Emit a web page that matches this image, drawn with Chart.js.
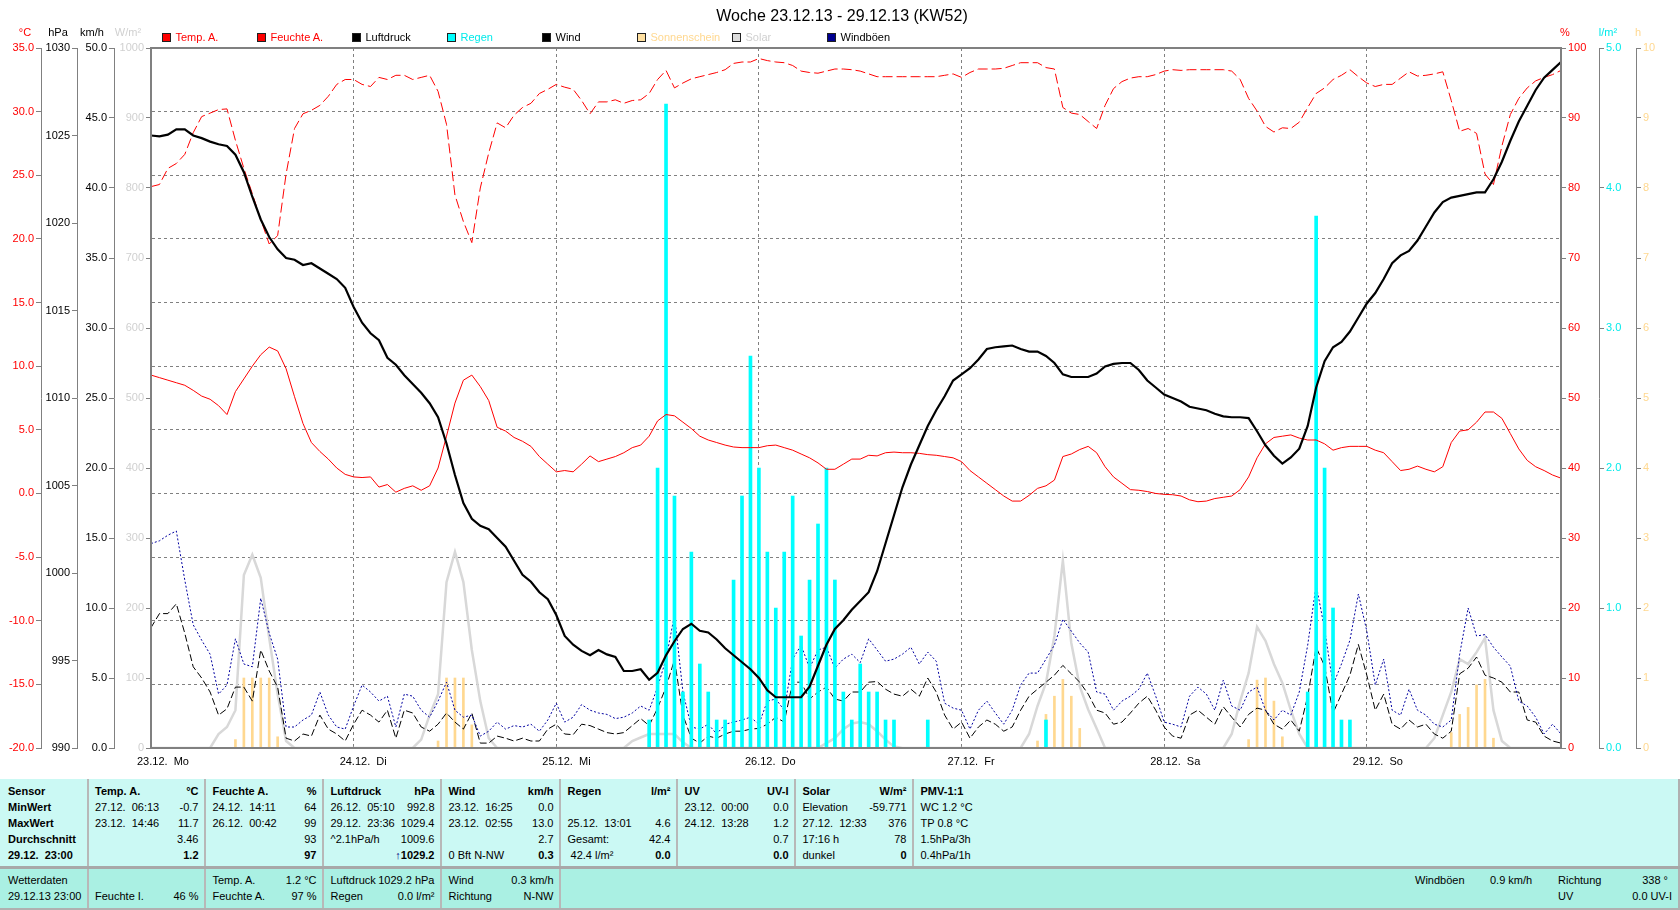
<!DOCTYPE html>
<html><head><meta charset="utf-8">
<script src="https://cdn.jsdelivr.net/npm/chart.js@4.4.0/dist/chart.umd.min.js"></script>
<style>
body{margin:0;background:#fff;width:1680px;height:910px;overflow:hidden;position:relative;font-family:"Liberation Sans",Arial,sans-serif;font-size:11px;color:#000;}
#c{position:absolute;left:0;top:0;}
.t{position:absolute;white-space:pre;line-height:13px;height:13px;}
.b{font-weight:bold;}
.box{position:absolute;}
</style></head><body>
<canvas id="c" width="1680" height="775"></canvas>
<div id="ov"></div>
<script>
// ---------- data (hourly, 23.12.13 00:00 ... 29.12.13 23:00) ----------
const dayLabels = ['23.12.  Mo','24.12.  Di','25.12.  Mi','26.12.  Do','27.12.  Fr','28.12.  Sa','29.12.  So'];
const dayTicks = [0,24,48,72,96,120,144];

const tempC = [
9.3,9.1,8.9,8.7,8.5,8.1,7.65,7.4,6.9,6.2,
8.0,9.0,10.0,10.9,11.5,11.2,9.8,7.6,5.5,4.0,
3.3,2.7,2.0,1.5,1.3,1.25,1.3,0.5,0.7,0.1,
0.4,0.6,0.25,0.6,2.0,4.5,7.1,8.9,9.3,8.4,
7.3,5.2,4.9,4.4,4.1,3.7,2.9,2.3,1.7,1.8,
1.7,2.3,2.95,2.5,2.7,2.9,3.2,3.6,3.8,4.5,
5.7,6.2,6.1,5.6,5.1,4.5,4.2,4.0,3.8,3.65,
3.6,3.6,3.6,3.75,3.8,3.6,3.4,3.1,2.8,2.4,
1.9,1.9,2.3,2.7,2.7,3.0,2.95,3.2,3.25,3.2,
3.2,3.15,3.05,3.0,2.9,2.8,2.5,1.8,1.3,0.8,
0.3,-0.2,-0.6,-0.6,-0.15,0.4,0.6,1.05,2.9,3.1,
3.45,3.7,3.2,2.1,1.3,0.8,0.3,0.25,0.15,0.0,
-0.07,-0.1,-0.2,-0.5,-0.65,-0.6,-0.4,-0.3,-0.2,0.3,
1.3,2.8,3.9,4.4,4.5,4.6,4.35,4.2,4.2,3.9,
3.4,3.6,3.7,3.7,3.7,3.4,3.2,2.5,1.8,1.9,
2.15,1.9,1.7,2.1,4.0,4.9,5.0,5.6,6.4,6.4,
5.9,4.7,3.5,2.6,2.1,1.8,1.45,1.2];

const humidity = [
80.2,80.5,82.8,83.5,84.8,87.9,90.2,90.7,91.2,91.3,
86.8,82.8,79.2,75.5,72.0,73.2,82.0,88.5,90.6,91.1,
91.8,93.1,94.8,95.5,95.5,94.8,94.5,95.8,95.5,96.1,
96.1,95.5,95.8,96.1,93.8,89.1,79.0,75.2,72.2,80.0,
85.0,89.3,88.6,90.4,91.5,92.1,93.5,94.1,94.8,94.4,
94.1,92.5,90.6,92.3,92.3,92.6,92.1,92.5,92.6,93.5,
95.5,96.8,94.3,95.0,95.6,95.9,96.2,96.5,96.9,97.8,
98.0,98.0,98.5,98.2,98.0,97.9,97.5,96.7,96.5,96.4,
96.7,97.0,97.0,96.9,96.7,96.3,95.9,95.9,95.9,95.9,
95.9,95.9,95.9,95.9,96.1,96.3,95.8,96.5,97.0,97.0,
97.0,97.1,97.5,97.9,97.9,97.9,97.2,97.0,91.5,90.7,
90.5,89.5,88.5,91.8,94.2,95.2,95.7,95.9,95.9,96.2,
96.7,96.9,96.8,96.9,96.9,96.9,96.9,96.9,96.7,95.5,
92.8,91.0,88.8,88.0,88.6,88.5,89.4,91.5,93.5,94.3,
95.5,96.1,96.9,95.9,95.0,94.5,94.8,94.8,95.7,96.6,
96.0,96.1,96.3,96.6,92.5,88.1,88.5,87.8,82.0,80.5,
86.0,90.5,92.8,94.3,95.3,95.8,96.2,96.8];

const pressure = [
1025.0,1024.95,1025.05,1025.35,1025.35,1025.0,1024.85,1024.65,1024.5,1024.4,
1023.9,1022.9,1021.5,1020.2,1019.2,1018.5,1018.0,1017.9,1017.6,1017.7,
1017.4,1017.1,1016.8,1016.3,1015.2,1014.3,1013.7,1013.3,1012.3,1011.9,
1011.3,1010.8,1010.3,1009.7,1008.9,1007.4,1005.6,1004.0,1003.1,1002.7,
1002.5,1002.0,1001.5,1000.7,999.9,999.5,998.9,998.5,997.6,996.4,
995.9,995.55,995.3,995.6,995.35,995.2,994.4,994.4,994.5,993.9,
994.3,995.3,996.1,996.8,997.1,996.7,996.6,996.2,995.7,995.3,
994.9,994.5,994.0,993.3,992.9,992.9,992.9,992.9,993.5,994.7,
995.9,996.8,997.3,997.9,998.4,998.9,1000.1,1001.7,1003.3,1004.9,
1006.2,1007.3,1008.4,1009.3,1010.1,1011.0,1011.35,1011.7,1012.2,1012.8,
1012.9,1012.95,1013.0,1012.8,1012.65,1012.65,1012.4,1012.0,1011.35,1011.2,
1011.2,1011.2,1011.4,1011.8,1011.95,1012.0,1012.0,1011.6,1011.0,1010.6,
1010.2,1010.0,1009.8,1009.5,1009.4,1009.3,1009.1,1008.95,1008.9,1008.9,
1008.85,1008.1,1007.3,1006.7,1006.25,1006.6,1007.1,1008.4,1010.6,1012.1,
1012.9,1013.2,1013.8,1014.6,1015.4,1016.0,1016.8,1017.7,1018.15,1018.4,
1019.0,1019.8,1020.6,1021.2,1021.45,1021.55,1021.65,1021.75,1021.75,1022.5,
1023.5,1024.7,1025.8,1026.7,1027.6,1028.3,1028.75,1029.2];

const wind = [
8.6,9.6,9.6,10.3,8.2,5.8,5.0,4.0,2.35,2.8,
4.35,4.35,3.35,7.0,5.5,4.35,0.7,0.5,1.0,0.85,
2.35,1.35,1.0,0.5,1.7,2.7,2.35,1.85,2.7,0.7,
2.7,2.5,1.5,1.2,1.7,2.5,1.85,1.35,2.5,0.35,
0.35,0.85,0.7,0.5,0.7,0.5,0.5,1.35,1.7,1.0,
0.95,1.7,1.6,1.35,1.1,1.0,1.1,1.6,2.1,1.6,
2.85,4.35,6.3,2.35,0.7,0.35,0.85,0.7,1.0,1.2,
1.2,1.35,1.4,1.7,2.2,1.85,4.7,4.7,3.5,4.0,
4.35,3.5,3.35,4.0,4.0,4.7,4.75,4.2,3.85,3.7,
4.2,3.7,5.0,4.0,2.35,1.35,1.85,0.7,1.5,2.0,
1.7,1.2,1.5,2.7,3.7,4.2,4.7,5.2,5.9,5.3,
4.7,3.85,2.7,2.5,1.7,1.85,2.5,3.2,3.7,2.7,
1.5,0.85,0.7,2.35,2.7,2.2,1.7,2.95,2.2,1.5,
2.4,2.85,2.7,1.7,1.35,2.0,1.2,3.7,7.2,5.85,
2.5,3.85,5.2,7.4,5.2,2.7,3.85,1.7,1.35,2.0,
1.5,1.7,1.0,0.7,1.2,5.3,5.7,6.5,5.2,5.0,
4.7,4.0,4.0,2.0,1.85,0.85,0.5,0.35];

const gusts = [
14.6,14.8,15.2,15.5,12.0,8.8,7.7,6.7,3.85,4.5,
7.8,6.0,5.8,10.7,8.2,6.35,1.5,1.5,2.0,2.35,
4.0,2.35,1.5,1.35,3.0,4.5,4.0,3.35,3.7,1.5,
3.85,3.7,2.7,2.2,3.35,4.7,2.7,2.2,2.35,0.85,
1.2,1.85,1.35,1.6,1.5,1.7,1.2,2.0,3.2,1.85,
2.2,3.1,2.7,2.5,2.4,2.1,2.2,2.5,3.0,2.7,
4.35,6.35,9.5,4.0,1.5,1.35,1.7,1.0,1.7,1.85,
2.0,2.2,1.7,3.35,3.5,2.7,6.35,7.35,5.7,7.0,
7.2,5.7,6.35,6.7,6.1,7.8,7.0,6.2,6.35,6.7,
7.2,6.0,6.85,6.2,3.2,2.85,2.7,1.35,2.7,3.35,
2.5,1.7,2.7,4.5,5.35,5.35,6.35,7.35,9.2,8.35,
7.5,6.85,4.0,3.85,2.7,3.35,3.7,4.2,5.35,3.7,
1.85,1.7,1.5,3.7,4.35,3.85,2.7,4.85,3.0,2.7,
4.0,4.35,2.7,2.0,2.7,2.35,4.0,7.35,11.65,8.5,
4.5,6.0,7.7,11.0,8.35,4.5,6.35,2.7,2.35,4.2,
2.7,2.35,1.7,1.5,2.0,6.7,10.0,8.0,8.1,7.2,
6.5,5.85,3.35,3.0,2.2,1.0,1.7,1.0];

const solar = [
0,0,0,0,0,0,0,0,20,30,
54,247,276,243,157,77,10,0,0,0,
0,0,0,0,0,0,0,0,0,0,
0,0,12,47,77,237,280,237,140,67,
14,0,0,0,0,0,0,0,0,0,
0,0,0,0,0,0,0,10,15,20,
20,20,20,8,0,0,0,0,0,0,
0,0,0,0,0,0,0,0,0,0,
7,14,27,35,37,34,24,12,2,0,
0,0,0,0,0,0,0,0,0,0,
0,0,0,0,20,60,93,160,268,150,
88,55,28,0,0,0,0,0,0,0,
0,0,0,0,0,0,0,0,20,67,
107,173,153,120,93,54,20,0,0,0,
0,0,0,0,0,0,0,0,0,0,
0,0,14,47,80,127,120,137,157,54,
10,0,0,0,0,0,0,0];

const rainHours = [59,60,61,62,63,64,65,66,67,68,69,70,71,72,73,74,75,76,77,78,79,80,81,82,83,84,85,86,87,88,92,106,137,138,139,140,141,142];
const rainVals  = [0.2,2.0,4.6,1.8,0.4,1.4,0.6,0.4,0.2,0.2,1.2,1.8,2.8,2.0,1.4,1.0,1.4,1.8,0.8,1.2,1.6,2.0,1.2,0.4,0.2,0.6,0.4,0.4,0.2,0.2,0.2,0.2,0.4,3.8,2.0,1.0,0.2,0.2];

const sunHours = [10,11,12,13,14,15,34,35,36,37,38,105,106,107,108,109,110,130,131,132,133,134,154,155,156,157,158,159];
const sunVals  = [0.12,1.0,1.0,1.0,1.0,0.16,0.1,1.0,1.0,1.0,0.33,0.1,0.48,0.74,0.98,0.74,0.28,0.12,0.97,1.0,0.67,0.16,0.22,0.48,0.58,0.9,0.98,0.14];

const tempTicks = [-20,-15,-10,-5,0,5,10,15,20,25,30,35];
const presTicks = [990,995,1000,1005,1010,1015,1020,1025,1030];
const windTicks = [0,5,10,15,20,25,30,35,40,45,50];
const solarTicks = [0,100,200,300,400,500,600,700,800,900,1000];
const humTicks = [0,10,20,30,40,50,60,70,80,90,100];
const rainTicks = [0,1,2,3,4,5];
const sunTicks = [0,1,2,3,4,5,6,7,8,9,10];

// ---------- chart ----------
const hourIdx = Array.from({length: tempC.length}, (_, i) => i);
const pts = arr => arr.map((v, i) => ({x: hourIdx[i], y: v}));
const FONT = {family: '"Liberation Sans", Arial, sans-serif', size: 11};
const GRAY = '#808080';

function yAxis(pos, weight, min, max, ticks, color, fmt, width, extra) {
  return Object.assign({
    type: 'linear', position: pos, weight: weight, min: min, max: max,
    afterBuildTicks: s => { s.ticks = ticks.map(v => ({value: v})); },
    ticks: {callback: fmt, color: color, font: FONT, padding: 2, autoSkip: false},
    grid: {drawOnChartArea: false, drawTicks: true, tickLength: 5, color: GRAY, tickColor: GRAY},
    border: {display: true, color: GRAY, width: 1},
    afterFit: s => { s.width = width; }
  }, extra || {});
}

const framePlugin = {
  id: 'frame',
  afterDatasetsDraw(chart) {
    const {ctx, chartArea: a} = chart;
    ctx.save();
    ctx.strokeStyle = GRAY; ctx.lineWidth = 2;
    ctx.strokeRect(a.left, a.top, a.right - a.left, a.bottom - a.top);
    ctx.restore();
  }
};

new Chart(document.getElementById('c'), {
  type: 'line',
  data: {
    datasets: [
      {type: 'line', label: 'Luftdruck', data: pts(pressure), yAxisID: 'yP', borderColor: '#000', borderWidth: 2.2, pointRadius: 0, tension: 0, order: 1},
      {type: 'line', label: 'Temp. A.', data: pts(tempC), yAxisID: 'yT', borderColor: '#ff0000', borderWidth: 1, pointRadius: 0, tension: 0, order: 2},
      {type: 'line', label: 'Feuchte A.', data: pts(humidity), yAxisID: 'yHum', borderColor: '#ff0000', borderWidth: 1, borderDash: [10, 4], pointRadius: 0, tension: 0, order: 3},
      {type: 'bar', label: 'Regen', data: rainHours.map((h, i) => ({x: h, y: rainVals[i]})), yAxisID: 'yR', backgroundColor: '#00ffff', barThickness: 3, grouped: false, order: 4},
      {type: 'line', label: 'Windböen', data: pts(gusts), yAxisID: 'yW', borderColor: '#0000a0', borderWidth: 1, borderDash: [2, 2], pointRadius: 0, tension: 0, order: 5},
      {type: 'line', label: 'Wind', data: pts(wind), yAxisID: 'yW', borderColor: '#000', borderWidth: 1, borderDash: [7, 3], pointRadius: 0, tension: 0, order: 6},
      {type: 'bar', label: 'Sonnenschein', data: sunHours.map((h, i) => ({x: h, y: sunVals[i]})), yAxisID: 'ySun', backgroundColor: '#ffd890', barThickness: 2, grouped: false, order: 7},
      {type: 'line', label: 'Solar', data: pts(solar), yAxisID: 'yS', borderColor: '#d8d8d8', borderWidth: 2.5, pointRadius: 0, tension: 0, order: 8}
    ]
  },
  options: {
    responsive: false, animation: false, devicePixelRatio: 1, events: [],
    layout: {padding: {top: 48, left: 0, right: 0, bottom: 0}},
    plugins: {legend: {display: false}, tooltip: {enabled: false}, title: {display: false}},
    scales: {
      x: {
        type: 'linear', position: 'bottom', min: 0, max: 167, offset: false,
        afterBuildTicks: s => { s.ticks = dayTicks.map(v => ({value: v})); },
        ticks: {callback: v => dayLabels[Math.round(v / 24)], align: 'start', labelOffset: -14, padding: 7, color: '#000', font: FONT, autoSkip: false, maxRotation: 0},
        grid: {color: GRAY, drawTicks: false, lineWidth: 1, offset: false},
        border: {color: GRAY, width: 2, dash: [3, 3]},
        afterFit: s => { s.height = 27; }
      },
      yT: yAxis('left', 4, -20, 35, tempTicks, '#ff0000', v => v.toFixed(1), 41,
        {grid: {drawOnChartArea: true, drawTicks: true, tickLength: 5, color: GRAY, tickColor: GRAY, lineWidth: 1},
         border: {display: true, color: GRAY, width: 1, dash: [3, 3]}}),
      yP: yAxis('left', 3, 990, 1030, presTicks, '#000', v => String(v), 36),
      yW: yAxis('left', 2, 0, 50, windTicks, '#000', v => v.toFixed(1), 37),
      yS: yAxis('left', 1, 0, 1000, solarTicks, '#d0d0d0', v => String(v), 37),
      yHum: yAxis('right', 1, 0, 100, humTicks, '#ff0000', v => String(v), 38),
      yR: yAxis('right', 2, 0, 5, rainTicks, '#00eaea', v => v.toFixed(1), 37),
      ySun: yAxis('right', 3, 0, 10, sunTicks, '#ffd890', v => String(v), 44)
    }
  },
  plugins: [framePlugin]
});

// ---------- overlay texts ----------
const ov = document.getElementById('ov');
function T(x, y, s, o) {
  o = o || {};
  const d = document.createElement('div');
  d.className = 't' + (o.b ? ' b' : '');
  if (o.html) d.innerHTML = s; else d.textContent = s;
  d.style.top = (y - 7) + 'px';
  if (o.align === 'right') d.style.right = (1680 - x) + 'px';
  else if (o.align === 'center') { d.style.left = x + 'px'; d.style.transform = 'translateX(-50%)'; }
  else d.style.left = x + 'px';
  if (o.color) d.style.color = o.color;
  if (o.size) { d.style.fontSize = o.size + 'px'; d.style.lineHeight = (o.size + 3) + 'px'; d.style.height = (o.size + 3) + 'px'; d.style.top = (y - (o.size + 3) / 2) + 'px'; }
  ov.appendChild(d);
}
function B(x, y, w, h, bg, extra) {
  const d = document.createElement('div');
  d.className = 'box';
  d.style.left = x + 'px'; d.style.top = y + 'px'; d.style.width = w + 'px'; d.style.height = h + 'px';
  d.style.background = bg;
  if (extra) Object.assign(d.style, extra);
  ov.appendChild(d);
}

// title
T(842, 15, 'Woche 23.12.13 - 29.12.13 (KW52)', {align: 'center', size: 16});

// axis units
T(25, 33, '°C', {align: 'center', color: '#ff0000'});
T(58, 33, 'hPa', {align: 'center'});
T(92, 33, 'km/h', {align: 'center'});
T(128, 33, 'W/m²', {align: 'center', color: '#d0d0d0'});
T(1565, 33, '%', {align: 'center', color: '#ff0000'});
T(1608, 33, 'l/m²', {align: 'center', color: '#00eaea'});
T(1638, 33, 'h', {align: 'center', color: '#ffd890'});

// legend
const legItems = [
  ['Temp. A.', '#ff0000', '#ff0000'],
  ['Feuchte A.', '#ff0000', '#ff0000'],
  ['Luftdruck', '#000000', '#000000'],
  ['Regen', '#00ffff', '#00eaea'],
  ['Wind', '#000000', '#000000'],
  ['Sonnenschein', '#ffe0a0', '#ffd890'],
  ['Solar', '#dcdcdc', '#d0d0d0'],
  ['Windböen', '#000090', '#000000']
];
legItems.forEach((it, i) => {
  const x = 161.5 + 95 * i;
  B(x, 33, 9, 9, it[1], {border: '1px solid #202020', boxSizing: 'border-box'});
  T(x + 14, 37.5, it[0], {color: it[2]});
});

// table backgrounds
B(0, 779, 1678, 87, '#cbf9f4', {borderRight: '2px solid #b0b0b0'});
B(0, 866, 1680, 3, '#a8a8a8');
B(0, 869, 1678, 39, '#aaf0e3', {borderRight: '2px solid #b0b0b0', borderBottom: '2px solid #b0b0b0'});
const cols = [0, 87.5, 205, 323, 441, 560, 677, 795, 913, 1678];
for (let i = 1; i <= 8; i++) B(cols[i] - 1, 779, 2, 87, '#b8b8b8');
for (let i = 1; i <= 5; i++) B(cols[i] - 1, 869, 2, 39, '#b8b8b8');

const ry = [792, 808, 824, 840, 856];
const L = (c, r, s, b, extra) => T(c === 0 ? 8 : cols[c] + 7.5, ry[r], s, Object.assign({b: b}, extra || {}));
const R = (c, r, s, b, extra) => T(cols[c + 1] - 6.5, ry[r], s, Object.assign({b: b, align: 'right'}, extra || {}));

['Sensor', 'MinWert', 'MaxWert', 'Durchschnitt', '29.12.  23:00'].forEach((s, r) => L(0, r, s, true));
L(1, 0, 'Temp. A.', true); R(1, 0, '°C', true);
L(1, 1, '27.12.  06:13'); R(1, 1, '-0.7');
L(1, 2, '23.12.  14:46'); R(1, 2, '11.7');
R(1, 3, '3.46'); R(1, 4, '1.2', true);
L(2, 0, 'Feuchte A.', true); R(2, 0, '%', true);
L(2, 1, '24.12.  14:11'); R(2, 1, '64');
L(2, 2, '26.12.  00:42'); R(2, 2, '99');
R(2, 3, '93'); R(2, 4, '97', true);
L(3, 0, 'Luftdruck', true); R(3, 0, 'hPa', true);
L(3, 1, '26.12.  05:10'); R(3, 1, '992.8');
L(3, 2, '29.12.  23:36'); R(3, 2, '1029.4');
L(3, 3, '^2.1hPa/h'); R(3, 3, '1009.6');
R(3, 4, '<span style="color:#000080">↑</span>1029.2', true, {html: true});
L(4, 0, 'Wind', true); R(4, 0, 'km/h', true);
L(4, 1, '23.12.  16:25'); R(4, 1, '0.0');
L(4, 2, '23.12.  02:55'); R(4, 2, '13.0');
R(4, 3, '2.7');
L(4, 4, '0 Bft N-NW'); R(4, 4, '0.3', true);
L(5, 0, 'Regen', true); R(5, 0, 'l/m²', true);
L(5, 2, '25.12.  13:01'); R(5, 2, '4.6');
L(5, 3, 'Gesamt:'); R(5, 3, '42.4');
L(5, 4, ' 42.4 l/m²'); R(5, 4, '0.0', true);
L(6, 0, 'UV', true); R(6, 0, 'UV-I', true);
L(6, 1, '23.12.  00:00'); R(6, 1, '0.0');
L(6, 2, '24.12.  13:28'); R(6, 2, '1.2');
R(6, 3, '0.7'); R(6, 4, '0.0', true);
L(7, 0, 'Solar', true); R(7, 0, 'W/m²', true);
L(7, 1, 'Elevation'); R(7, 1, '-59.771');
L(7, 2, '27.12.  12:33'); R(7, 2, '376');
L(7, 3, '17:16 h'); R(7, 3, '78');
L(7, 4, 'dunkel'); R(7, 4, '0', true);
L(8, 0, 'PMV-1:1', true);
L(8, 1, 'WC 1.2 °C'); L(8, 2, 'TP 0.8 °C'); L(8, 3, '1.5hPa/3h'); L(8, 4, '0.4hPa/1h');

// lower row
const ly = [881, 897];
T(8, ly[0], 'Wetterdaten'); T(8, ly[1], '29.12.13 23:00');
T(cols[1] + 7.5, ly[1], 'Feuchte I.'); T(cols[2] - 6.5, ly[1], '46 %', {align: 'right'});
T(cols[2] + 7.5, ly[0], 'Temp. A.'); T(cols[3] - 6.5, ly[0], '1.2 °C', {align: 'right'});
T(cols[2] + 7.5, ly[1], 'Feuchte A.'); T(cols[3] - 6.5, ly[1], '97 %', {align: 'right'});
T(cols[3] + 7.5, ly[0], 'Luftdruck'); T(cols[4] - 6.5, ly[0], '1029.2 hPa', {align: 'right'});
T(cols[3] + 7.5, ly[1], 'Regen'); T(cols[4] - 6.5, ly[1], '0.0 l/m²', {align: 'right'});
T(cols[4] + 7.5, ly[0], 'Wind'); T(cols[5] - 6.5, ly[0], '0.3 km/h', {align: 'right'});
T(cols[4] + 7.5, ly[1], 'Richtung'); T(cols[5] - 6.5, ly[1], 'N-NW', {align: 'right'});
T(1415, ly[0], 'Windböen'); T(1490, ly[0], '0.9 km/h');
T(1558, ly[0], 'Richtung'); T(1668, ly[0], '338 °', {align: 'right'});
T(1558, ly[1], 'UV'); T(1672, ly[1], '0.0 UV-I', {align: 'right'});
</script>
</body></html>
